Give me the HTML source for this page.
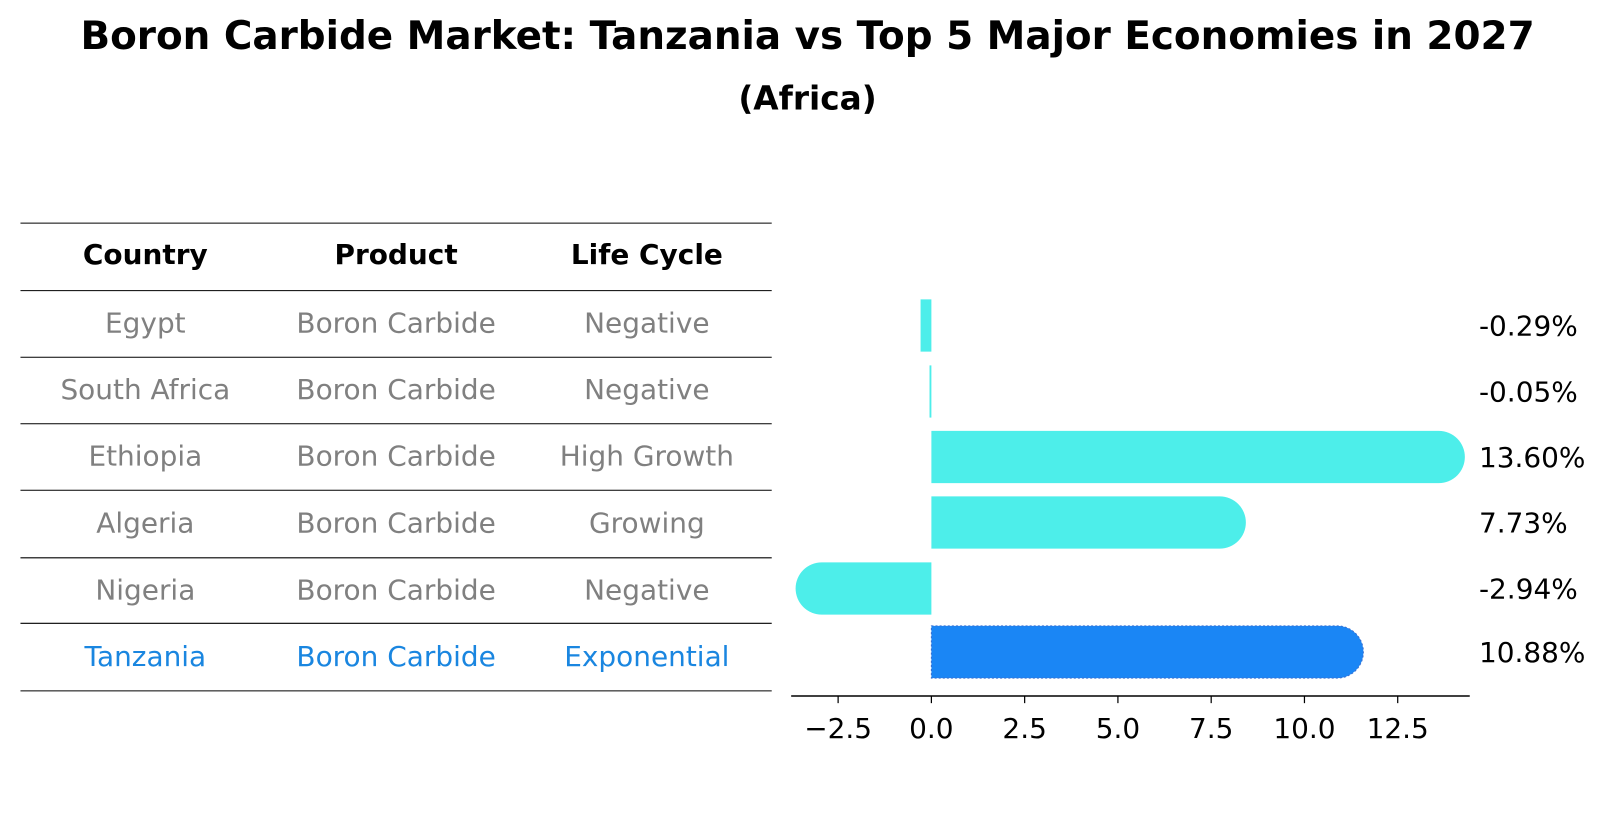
<!DOCTYPE html>
<html><head><meta charset="utf-8"><style>
body{margin:0;background:#fff;}
svg{display:block;font-family:"DejaVu Sans","Liberation Sans",sans-serif;}
</style></head><body>
<svg id="chart" width="1604" height="823">
<g transform="scale(1.0235)">
<text x="789" y="48" text-anchor="middle" font-size="38" font-weight="bold">Boron Carbide Market: Tanzania vs Top 5 Major Economies in 2027</text>
<text x="789" y="107" text-anchor="middle" font-size="32" font-weight="bold">(Africa)</text>
<g id="table"></g>
<g id="bars"></g>
</g>
</svg>
<script>
const countries=["Egypt","South Africa","Ethiopia","Algeria","Nigeria","Tanzania"];
const products=["Boron Carbide","Boron Carbide","Boron Carbide","Boron Carbide","Boron Carbide","Boron Carbide"];
const lifeCycles=["Negative","Negative","High Growth","Growing","Negative","Exponential"];
const growth=[-0.29,-0.05,13.60,7.73,-2.94,10.88];
const valueLabels=["-0.29%","-0.05%","13.60%","7.73%","-2.94%","10.88%"];
const ticks=[-2.5,0,2.5,5,7.5,10,12.5];
const tickLabels=["\u22122.5","0.0","2.5","5.0","7.5","10.0","12.5"];

const NS="http://www.w3.org/2000/svg";
function mk(tag,attrs,parent,text){const e=document.createElementNS(NS,tag);for(const k in attrs)e.setAttribute(k,attrs[k]);if(text!==undefined)e.textContent=text;parent.appendChild(e);return e;}

const FS=27.3;
// table
const tbl=document.getElementById('table');
const lineYs=[218,284,349,414,479,545,609,675];
const colX=[142,387,632];
lineYs.forEach(y=>{const l=mk('line',{x1:20,x2:754,y1:y,y2:y,stroke:'#000','stroke-width':1},tbl);

});
["Country","Product","Life Cycle"].forEach((h,i)=>{const t=mk('text',{x:colX[i],y:258,'text-anchor':'middle','font-size':FS,'font-weight':'bold'},tbl,h);

});
countries.forEach((c,r)=>{
  const y=(lineYs[r+1]+lineYs[r+2])/2+8.5;
  const col=r===countries.length-1?'#1a86e0':'#808080';
  [c,products[r],lifeCycles[r]].forEach((v,i)=>{const t=mk('text',{x:colX[i],y:y,'text-anchor':'middle','font-size':FS,fill:col},tbl,v);
  
  });
});

// bars
const g=document.getElementById('bars');
const x0=910, unit=36.45;
const xs=v=>x0+v*unit;
const rowCenters=[318,382.5,446.5,510.5,575,637];
const bh=51, capR=25.5;
growth.forEach((v,i)=>{
  const cy=rowCenters[i];
  const xe=xs(v);
  const isT=i===growth.length-1;
  const fill=isT?'#1a86f5':'#4deeea';
  const left=Math.min(x0,xe), w=Math.max(Math.abs(xe-x0),1);
  const useCap=Math.abs(xe-x0)>capR;
  let d;
  if(useCap){
    const dir=v>=0?1:-1;
    d=`M${x0},${cy-bh/2} L${xe},${cy-bh/2} A${capR},${bh/2} 0 0 ${dir>0?1:0} ${xe},${cy+bh/2} L${x0},${cy+bh/2} Z`;
  } else {
    d=`M${left},${cy-bh/2} h${w} v${bh} h${-w} Z`;
  }
  const p=mk('path',{d:d,fill:fill},g);
  if(isT){p.setAttribute('stroke','#3a6fd0');p.setAttribute('stroke-dasharray','2,2');p.setAttribute('stroke-width','1');}
  
  
  const t=mk('text',{x:1445,y:cy+10,'font-size':FS},g,valueLabels[i]);
  
  
});
const ax=mk('line',{x1:773,x2:1436,y1:680,y2:680,stroke:'#000','stroke-width':1.5},g);


ticks.forEach((t,i)=>{
  const x=xs(t);
  const tk=mk('line',{x1:x,x2:x,y1:680,y2:687,stroke:'#000','stroke-width':1.2},g);
  
  
  const tl=mk('text',{x:x,y:721,'text-anchor':'middle','font-size':FS},g,tickLabels[i]);
  
  
});
</script>
</body></html>
